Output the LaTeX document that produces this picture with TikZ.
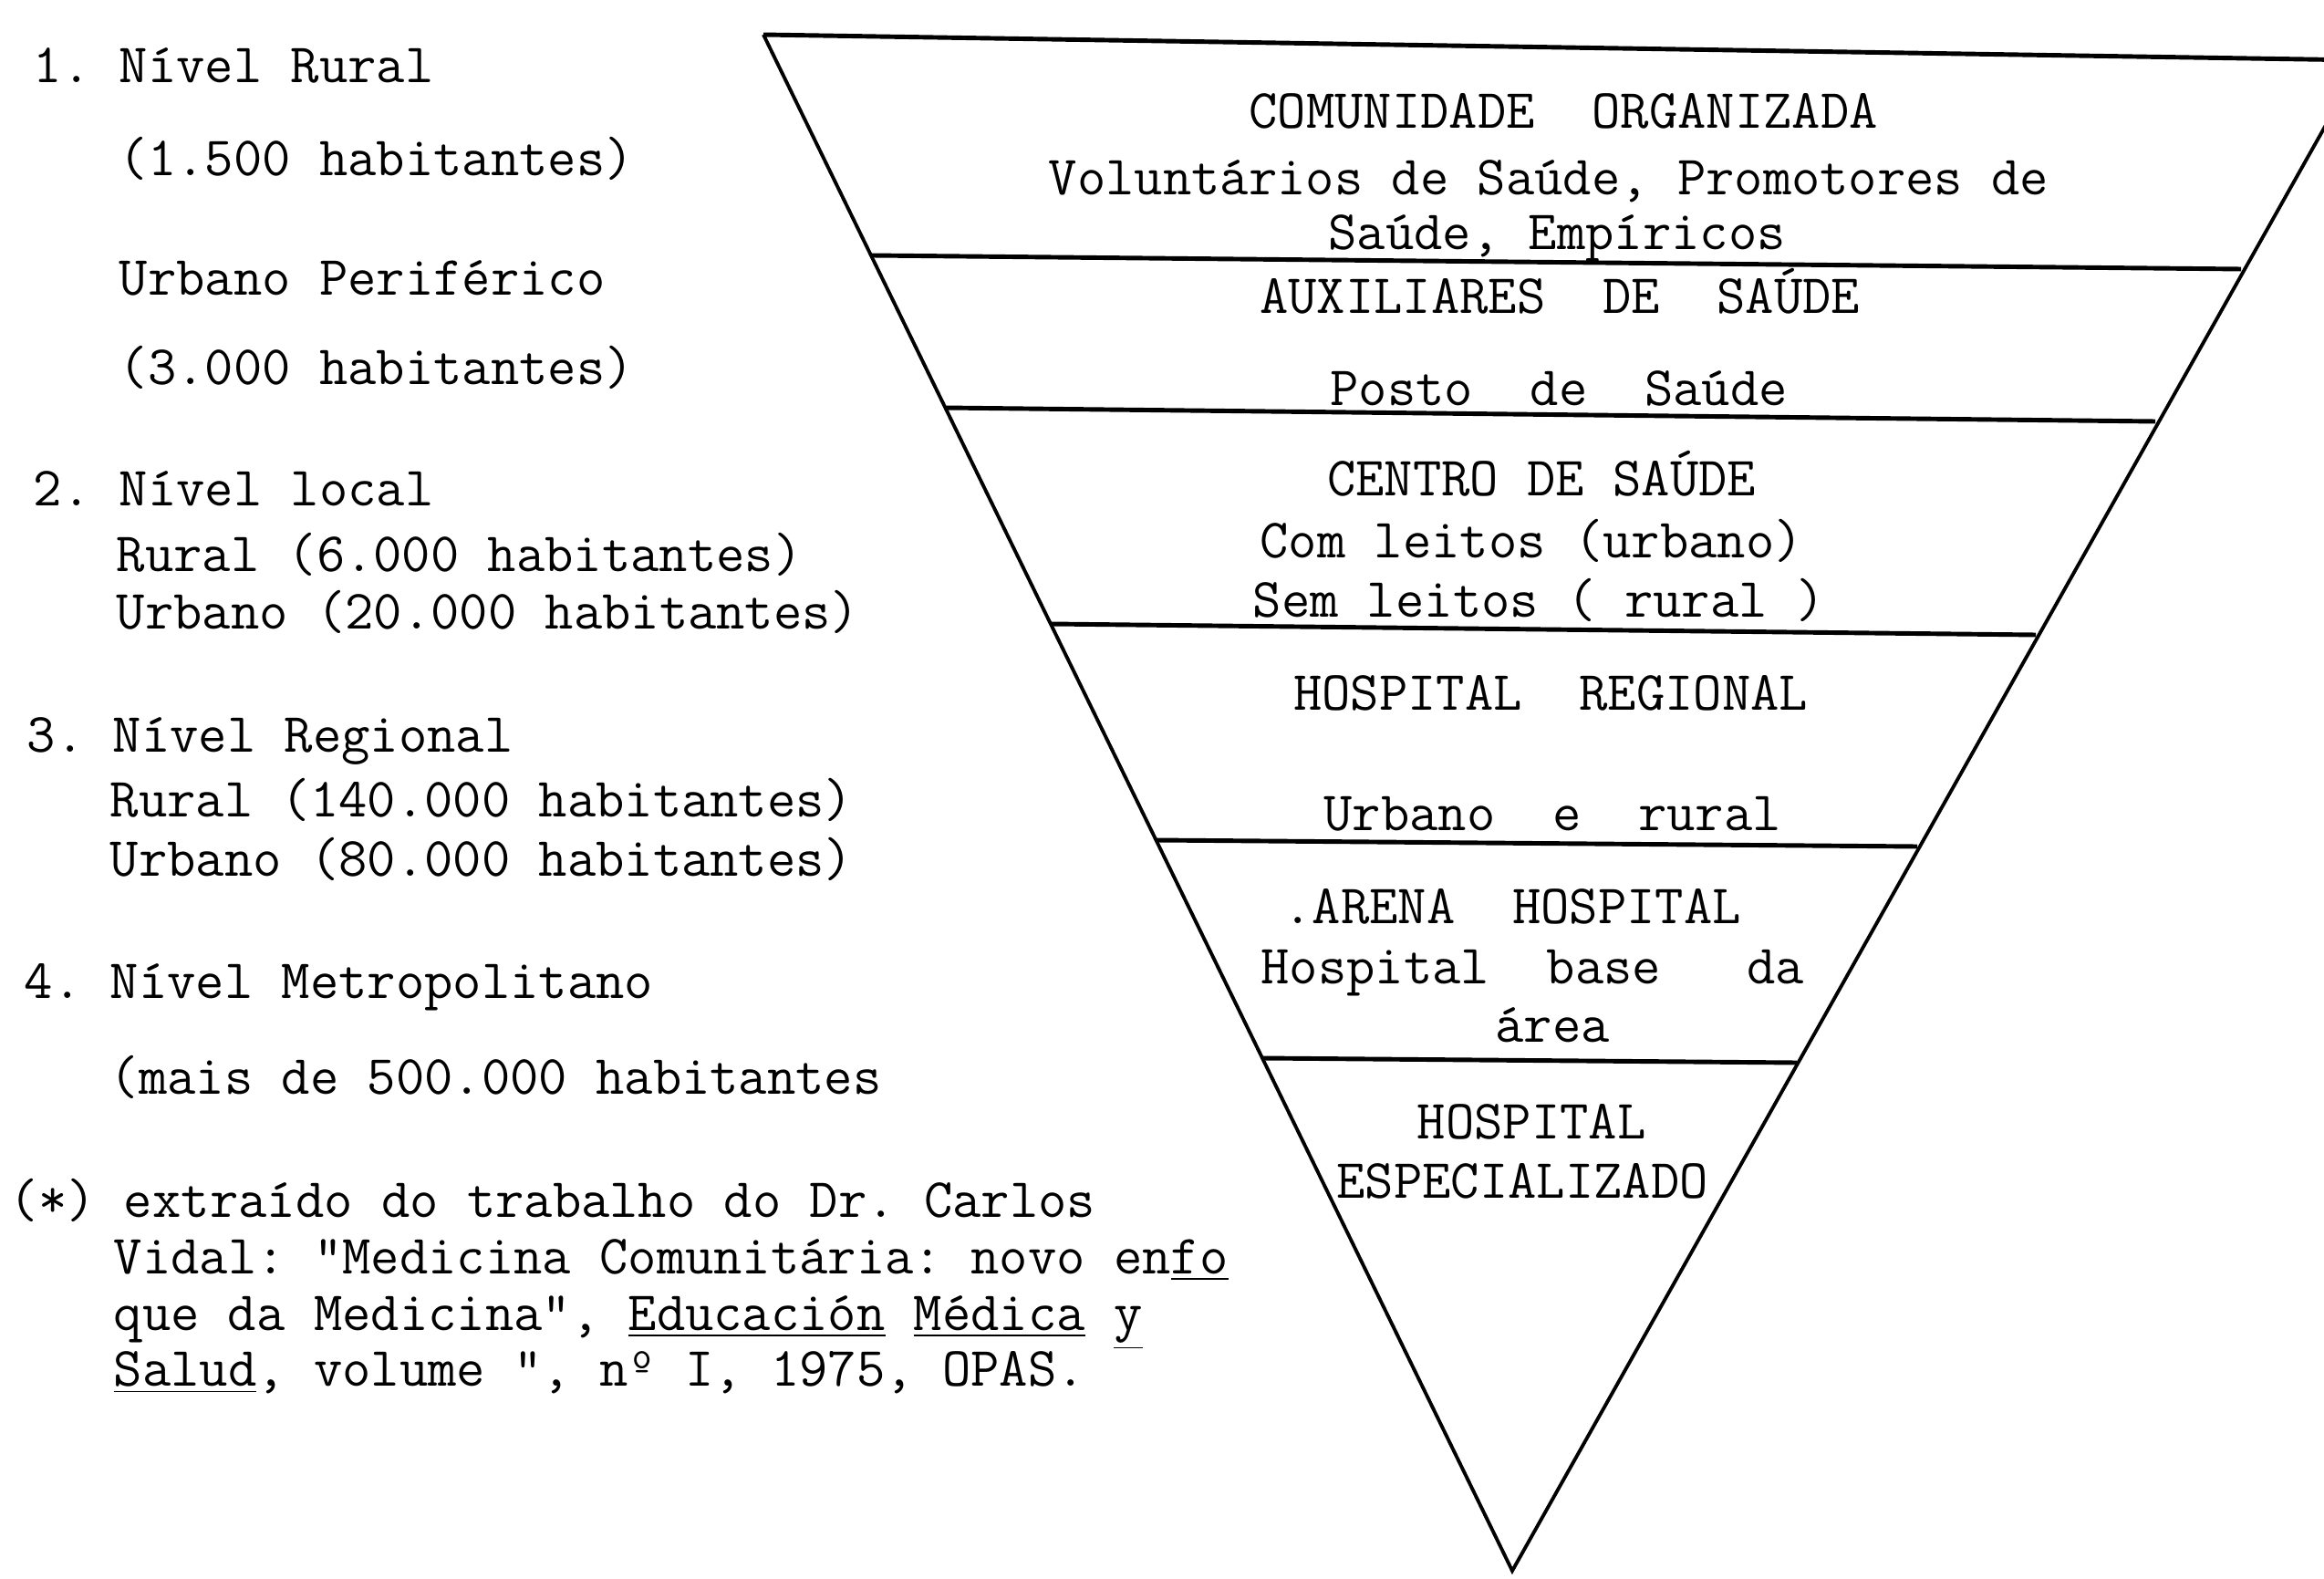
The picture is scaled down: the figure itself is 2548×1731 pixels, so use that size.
\documentclass[tikz,border=0pt]{standalone}
\usepackage{tikz}

\tikzset{
  tw/.style={font=\ttfamily\fontsize{17.3}{19}\selectfont\frenchspacing, inner sep=0pt},
  lefttext/.style={tw, anchor=mid west},
  tritext/.style={tw, anchor=mid},
  divider/.style={line width=1.4pt},
  side/.style={line width=1.1pt}
}

\begin{document}
\begin{tikzpicture}[x=0.01cm,y=-0.01cm]
  \useasboundingbox (0,0) rectangle (2548,1731);
  \clip (0,0) rectangle (2548,1731);

  % inverted triangle of levels
  \coordinate (tl) at (837,38);
  \coordinate (tr) at (2590,66);
  \coordinate (apex) at (1658,1722);
  \draw[side] (tl) -- (apex) -- (tr);
  \draw[divider] (tl) -- (tr);
  \foreach \xl/\yl/\xr/\yr in {955/280/2457/295, 1036/447/2363/462, 1152/684/2232/696,
                               1267/921/2102/928, 1384/1160/1970/1165}
    \draw[divider] (\xl,\yl) -- (\xr,\yr);

  % texts inside the triangle
  \foreach \x/\y/\t [count=\i] in {
      1714/133/{COMUNIDADE~~ORGANIZADA},
      1698/206/{Voluntários de Saúde, Promotores de},
      1707/266/{Saúde, Empíricos},
      1710/336/{AUXILIARES~~DE~~SAÚDE},
      1709/437/{Posto~~de~~Saúde},
      1690/536/{CENTRO DE SAÚDE},
      1679/604/{Com leitos (urbano)},
      1687/669/{Sem leitos ( rural )},
      1700/771/{HOSPITAL~~REGIONAL},
      1702/903/{Urbano~~e~~rural},
      1658/1005/{.ARENA~~HOSPITAL},
      1680/1071/{Hospital~~base~~~da},
      1702/1135/{área},
      1679/1241/{HOSPITAL},
      1669/1306/{ESPECIALIZADO}}
    \node[tritext] (tri\i) at (\x,\y) {\t};

  % levels on the left
  \foreach \x/\y/\t [count=\i] in {
      36/83/{1. Nível Rural},
      130/185/{(1.500 habitantes)},
      130/316/{Urbano Periférico},
      130/414/{(3.000 habitantes)},
      36/547/{2. Nível local},
      127/619/{Rural (6.000 habitantes)},
      127/682/{Urbano (20.000 habitantes)},
      29/817/{3. Nível Regional},
      120/888/{Rural (140.000 habitantes)},
      120/953/{Urbano (80.000 habitantes)},
      26/1087/{4. Nível Metropolitano},
      120/1192/{(mais de 500.000 habitantes}}
    \node[lefttext] (lvl\i) at (\x,\y) {\t};

  % source note
  \node[lefttext] (note1) at (10,1327) {(*) extraído do trabalho do Dr. Carlos};
  \node[lefttext] (note2) at (124,1389) {Vidal: "Medicina Comunitária: novo en\underline{fo}};
  \node[lefttext] (note3) at (124,1451) {que da Medicina", \underline{Educación} \underline{Médica} \underline{y}};
  \node[lefttext] (note4) at (124,1512) {\underline{Salud}, volume ", nº I, 1975, OPAS.};
\end{tikzpicture}
\end{document}
